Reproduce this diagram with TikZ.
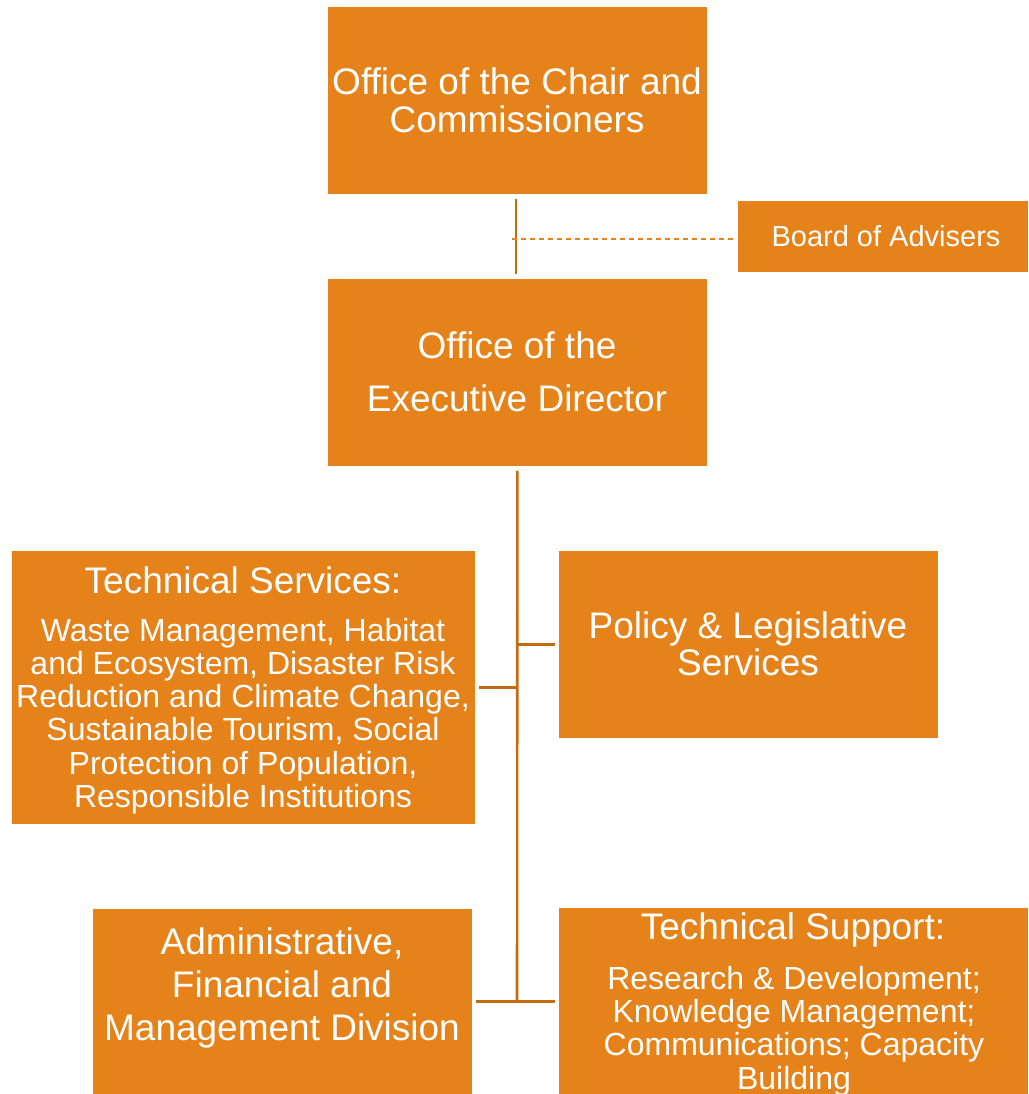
\documentclass[tikz,border=0pt]{standalone}
\usepackage{fontspec}
\setmainfont{Liberation Sans}
\definecolor{boxor}{HTML}{E5821A}
\definecolor{lineor}{HTML}{C46B12}
\begin{document}
\begin{tikzpicture}[x=1pt,y=-1pt,
  box/.style={fill=boxor, draw=white, line width=0.8pt, inner sep=0pt, anchor=north west},
  txt/.style={text=white, align=center, inner sep=0pt},
  conn/.style={draw=lineor, line width=2.6pt},
  dashconn/.style={draw=boxor, line width=1.4pt, dash pattern=on 5pt off 4pt}]
\useasboundingbox (0,0) rectangle (1028,1094);
% boxes
\node[box, minimum width=380pt, minimum height=188pt] (chair) at (327,6) {};
\node[box, minimum width=291pt, minimum height=72pt] (board) at (737,200) {};
\node[box, minimum width=380pt, minimum height=188pt] (exec) at (327,278) {};
\node[box, minimum width=464pt, minimum height=274pt] (ts) at (11,550) {};
\node[box, minimum width=380pt, minimum height=188pt] (pol) at (558,550) {};
\node[box, minimum width=380pt, minimum height=186pt] (adm) at (92,908) {};
\node[box, minimum width=470pt, minimum height=187pt] (sup) at (558,907) {};
% texts
\node[txt, font=\fontsize{37}{38}\selectfont] (chairT) at (517,100) {Office of the Chair and\\Commissioners};
\node[txt, font=\fontsize{29}{30}\selectfont] (boardT) at (886,236) {Board of Advisers};
\node[txt, font=\fontsize{37}{53}\selectfont] (execT) at (517,372) {Office of the\\Executive Director};
\node[txt, font=\fontsize{37}{40}\selectfont] (tsT) at (243,580) {Technical Services:};
\node[txt, font=\fontsize{32}{33.2}\selectfont] (tsB) at (243,716) {Waste Management, Habitat\\and Ecosystem, Disaster Risk\\Reduction and Climate Change,\\Sustainable Tourism, Social\\Protection of Population,\\Responsible Institutions};
\node[txt, font=\fontsize{37}{37}\selectfont] (polT) at (748,644) {Policy \& Legislative\\Services};
\node[txt, font=\fontsize{37}{43}\selectfont] (admT) at (282,988) {Administrative,\\Financial and\\Management Division};
\node[txt, font=\fontsize{37}{40}\selectfont] (supT) at (793,930) {Technical Support:};
\node[txt, font=\fontsize{32}{33.2}\selectfont] (supB) at (794,1031) {Research \& Development;\\Knowledge Management;\\Communications; Capacity\\Building};
% connectors
\coordinate (dashstart) at (512,239);
\coordinate (trunkend) at (517,1001);
\draw[conn, shorten <=4pt, shorten >=4pt] (chair.south -| 516,0) -- (exec.north -| 516,0);
\draw[dashconn] (dashstart) -- (board.west |- dashstart);
\draw[conn, shorten <=4pt] (exec.south) -- (trunkend);
\draw[conn, shorten <=3pt] (ts.east) -- (ts.east -| trunkend);
\draw[conn, shorten <=3pt] (pol.west) -- (pol.west -| trunkend);
\draw[conn, shorten <=3pt, shorten >=3pt] (adm.east) -- (sup.west |- adm.east);
\end{tikzpicture}
\end{document}
